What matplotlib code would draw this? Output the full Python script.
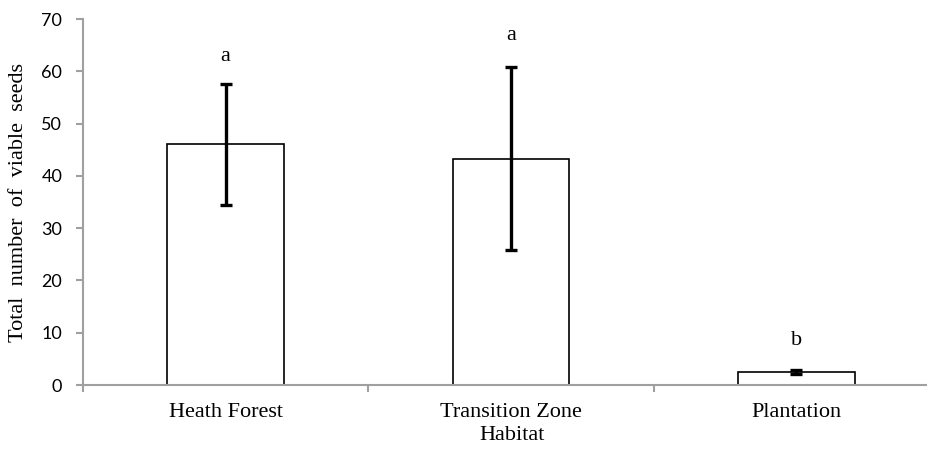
import matplotlib
matplotlib.use("Agg")
import matplotlib.pyplot as plt

categories = ["Heath Forest", "Transition Zone", "Plantation"]
means = [46.0, 43.3, 2.5]
errors = [11.5, 17.5, 0.4]
letters = ["a", "a", "b"]
letter_y = [62.8, 66.9, 8.6]
y_ticks = [0, 10, 20, 30, 40, 50, 60, 70]

fig = plt.figure(figsize=(9.28, 4.54), dpi=100)
ax = fig.add_axes([83/928, 69/454, 856/928, 366/454])

x = list(range(len(categories)))
ax.bar(x, means, width=0.41, color="white", edgecolor="black", linewidth=1.2, zorder=2)
ax.errorbar(x, means, yerr=errors, fmt="none", ecolor="black", elinewidth=2.4,
            capsize=4, capthick=2.4, zorder=3)
for xi, t, yy in zip(x, letters, letter_y):
    ax.text(xi, yy, t, ha="center", va="center", fontsize=16, family="Liberation Serif")

ax.set_xlim(-0.5, 2.5)
ax.set_ylim(0, 70)
ax.set_yticks(y_ticks)
ax.set_yticklabels([str(v) for v in y_ticks], fontsize=13, family="Lato")
ax.set_xticks(x)
ax.set_xticklabels(categories, fontsize=16, family="Liberation Serif")
ax.set_xticks([-0.5, 0.5, 1.5, 2.5], minor=True)
ax.tick_params(axis="x", which="major", length=0, pad=13)
ax.tick_params(axis="x", which="minor", length=5, width=1.5, color="#a0a0a0")
ax.tick_params(axis="y", length=5, width=1.5, color="#a0a0a0", pad=10)

for s in ["top", "right"]:
    ax.spines[s].set_visible(False)
for s in ["left", "bottom"]:
    ax.spines[s].set_color("#a0a0a0")
    ax.spines[s].set_linewidth(1.5)

ax.set_ylabel("Total  number  of  viable  seeds", fontsize=16, family="Liberation Serif")
ax.yaxis.set_label_coords(-55/856, 0.5)
ax.set_xlabel("Habitat", fontsize=16, family="Liberation Serif", va="center")
ax.xaxis.set_label_coords((512-83)/856, -50/366)

fig.savefig("out.png", dpi=100)
